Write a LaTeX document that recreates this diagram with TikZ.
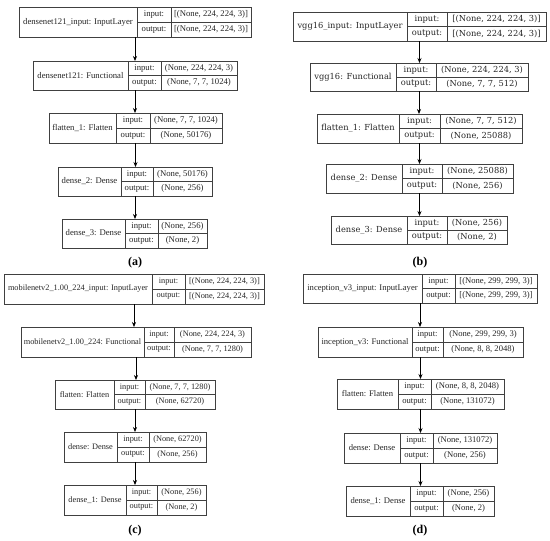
\documentclass[tikz,border=0pt]{standalone}
\usepackage{fontspec}
\setmainfont{Liberation Serif}
\newfontfamily\dvserif{DejaVu Serif}
\usetikzlibrary{arrows.meta}
\tikzset{
  layerbox/.style={draw=black!75, line width=0.7pt, inner sep=0pt, outer sep=0pt, fill=white},
  cellline/.style={draw=black!75, line width=0.7pt},
  celltext/.style={inner sep=0pt, text=black!85},
  flow/.style={draw=black, line width=0.7pt, -{Stealth[length=5pt,width=4pt]}},
  panellabel/.style={inner sep=0pt, font=\fontsize{12}{14}\selectfont\bfseries},
}
\newcommand\setvals[2]{\def\vin{#1}\def\vout{#2}}
\newcommand\layer[9]{%
  \setvals#9%
  \pgfmathsetmacro\lw{#3-#2}\pgfmathsetmacro\lh{#5-#4}%
  \pgfmathsetmacro\xm{(#2+#3)/2}%
  \pgfmathsetmacro\ym{(#4+#5)/2}\pgfmathsetmacro\yu{(3*#4+#5)/4}\pgfmathsetmacro\yl{(#4+3*#5)/4}%
  \pgfmathsetmacro\xa{(#2+#6)/2}\pgfmathsetmacro\xb{(#6+#7)/2}\pgfmathsetmacro\xc{(#7+#3)/2}%
  \node[layerbox, minimum width=\lw pt, minimum height=\lh pt] (#1) at (\xm,\ym) {};
  \draw[cellline] (#6,#4) -- (#6,#5);
  \draw[cellline] (#7,#4) -- (#7,#5);
  \draw[cellline] (#6,\ym) -- (#3,\ym);
  \node[celltext] (#1-name) at (\xa,\ym) {#8};
  \node[celltext] (#1-inl) at (\xb,\yu) {input:};
  \node[celltext] (#1-outl) at (\xb,\yl) {output:};
  \node[celltext] (#1-inv) at (\xc,\yu) {\vin};
  \node[celltext] (#1-outv) at (\xc,\yl) {\vout};
}
\begin{document}
\begin{tikzpicture}[x=1pt,y=-1pt]
\useasboundingbox[fill=white] (0,0) rectangle (550,541);
% (a)
\begin{scope}[font=\fontsize{8.7}{10}\selectfont]
\layer{a1}{19}{251}{7}{37}{137}{171}{densenet121\_input: InputLayer}{{[(None, 224, 224, 3)]}{[(None, 224, 224, 3)]}}
\layer{a2}{33}{237}{61}{90}{128}{161}{densenet121: Functional}{{(None, 224, 224, 3)}{(None, 7, 7, 1024)}}
\layer{a3}{49}{222}{113}{143}{116}{150}{flatten\_1: Flatten}{{(None, 7, 7, 1024)}{(None, 50176)}}
\layer{a4}{58}{212}{167}{196}{121}{153}{dense\_2: Dense}{{(None, 50176)}{(None, 256)}}
\layer{a5}{62}{207}{219}{248}{125}{158}{dense\_3: Dense}{{(None, 256)}{(None, 2)}}
\end{scope}
\draw[flow] (a1.south) -- (a1.south |- a2.north);
\draw[flow] (a2.south) -- (a2.south |- a3.north);
\draw[flow] (a3.south) -- (a3.south |- a4.north);
\draw[flow] (a4.south) -- (a4.south |- a5.north);
\node[panellabel] (la) at (135,263) {(a)};
% (b)
\begin{scope}[font=\dvserif\fontsize{8.3}{10}\selectfont]
\layer{b1}{293}{546}{12}{41}{407}{447}{vgg16\_input: InputLayer}{{[(None, 224, 224, 3)]}{[(None, 224, 224, 3)]}}
\layer{b2}{310}{528}{63}{91}{396}{436}{vgg16: Functional}{{(None, 224, 224, 3)}{(None, 7, 7, 512)}}
\layer{b3}{317}{522}{114}{143}{399}{440}{flatten\_1: Flatten}{{(None, 7, 7, 512)}{(None, 25088)}}
\layer{b4}{326}{513}{164}{193}{402}{442}{dense\_2: Dense}{{(None, 25088)}{(None, 256)}}
\layer{b5}{331}{507}{216}{244}{407}{447}{dense\_3: Dense}{{(None, 256)}{(None, 2)}}
\end{scope}
\draw[flow] (b1.south) -- (b1.south |- b2.north);
\draw[flow] (b2.south) -- (b2.south |- b3.north);
\draw[flow] (b3.south) -- (b3.south |- b4.north);
\draw[flow] (b4.south) -- (b4.south |- b5.north);
\node[panellabel] (lb) at (420,263) {(b)};
% (c)
\begin{scope}[font=\fontsize{8.3}{10}\selectfont]
\layer{c1}{4}{264}{274}{304}{152}{185}{mobilenetv2\_1.00\_224\_input: InputLayer}{{[(None, 224, 224, 3)]}{[(None, 224, 224, 3)]}}
\layer{c2}{21}{251}{327}{357}{144}{174}{mobilenetv2\_1.00\_224: Functional}{{(None, 224, 224, 3)}{(None, 7, 7, 1280)}}
\layer{c3}{55}{215}{380}{409}{114}{145}{flatten: Flatten}{{(None, 7, 7, 1280)}{(None, 62720)}}
\layer{c4}{64}{206}{432}{462}{117}{149}{dense: Dense}{{(None, 62720)}{(None, 256)}}
\layer{c5}{64}{206}{485}{515}{126}{157}{dense\_1: Dense}{{(None, 256)}{(None, 2)}}
\end{scope}
\draw[flow] (c1.south) -- (c1.south |- c2.north);
\draw[flow] (c2.south) -- (c2.south |- c3.north);
\draw[flow] (c3.south) -- (c3.south |- c4.north);
\draw[flow] (c4.south) -- (c4.south |- c5.north);
\node[panellabel] (lc) at (135,531) {(c)};
% (d)
\begin{scope}[font=\fontsize{8.6}{10}\selectfont]
\layer{d1}{303}{537}{274}{303}{422}{455}{inception\_v3\_input: InputLayer}{{[(None, 299, 299, 3)]}{[(None, 299, 299, 3)]}}
\layer{d2}{318}{523}{327}{357}{412}{443}{inception\_v3: Functional}{{(None, 299, 299, 3)}{(None, 8, 8, 2048)}}
\layer{d3}{337}{504}{379}{409}{398}{431}{flatten: Flatten}{{(None, 8, 8, 2048)}{(None, 131072)}}
\layer{d4}{344}{497}{433}{463}{400}{433}{dense: Dense}{{(None, 131072)}{(None, 256)}}
\layer{d5}{346}{494}{486}{516}{410}{443}{dense\_1: Dense}{{(None, 256)}{(None, 2)}}
\end{scope}
\draw[flow] (d1.south) -- (d1.south |- d2.north);
\draw[flow] (d2.south) -- (d2.south |- d3.north);
\draw[flow] (d3.south) -- (d3.south |- d4.north);
\draw[flow] (d4.south) -- (d4.south |- d5.north);
\node[panellabel] (ld) at (420,531) {(d)};
\end{tikzpicture}
\end{document}
